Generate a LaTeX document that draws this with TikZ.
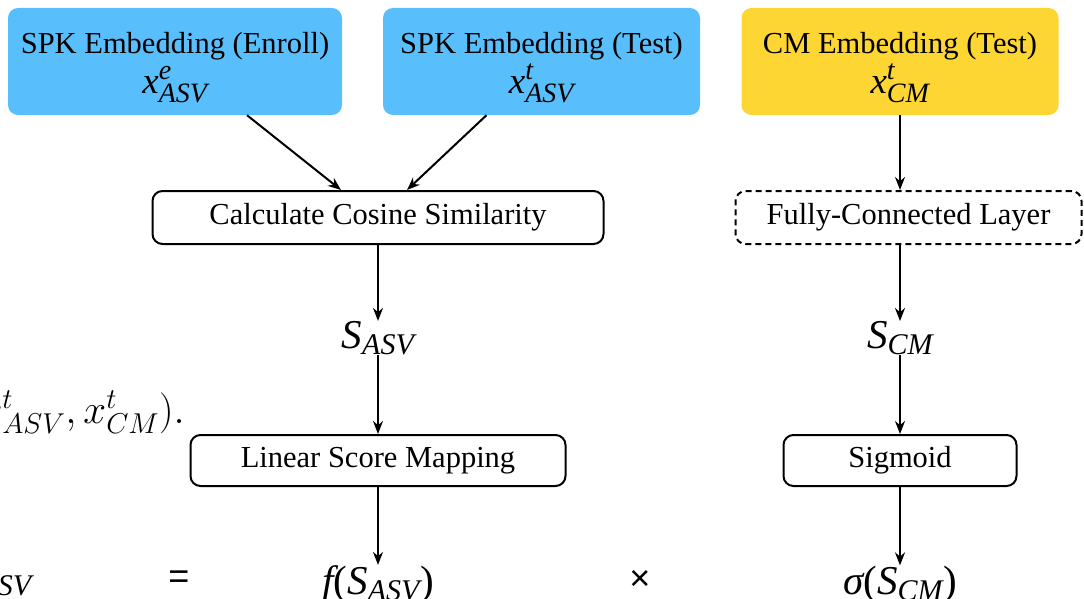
\RequirePackage{fix-cm}
\documentclass[tikz,border=0pt]{standalone}
\usepackage{amsmath}
\usepackage{fontspec}
\setmainfont{Liberation Serif}
\newfontfamily\opfont{Liberation Sans}
\usetikzlibrary{arrows.meta,calc}

\definecolor{spkblue}{RGB}{88,190,252}
\definecolor{cmyellow}{RGB}{253,214,51}

%% italic variable with scripts, sizes as in the figure
\newcommand{\embvar}[3]{{\fontsize{37}{37}\selectfont$\mbox{\itshape #1}^{\mbox{\fontsize{28}{28}\selectfont\itshape #2}}_{\mbox{\fontsize{28}{28}\selectfont\itshape #3}}$}}
\newcommand{\scorevar}[2]{\mbox{\itshape #1}_{\mbox{\fontsize{30}{30}\selectfont\itshape #2}}}
\newcommand{\embfont}{\fontsize{30.5}{40}\selectfont\lineskiplimit=-100pt\relax}

\tikzset{
  embbox/.style={rounded corners=10pt, minimum height=107pt, align=center,
    inner sep=0pt, font=\embfont},
  stepbox/.style={draw, line width=2pt, rounded corners=10pt, minimum height=53pt,
    inner sep=0pt, font=\fontsize{30.5}{36}\selectfont},
  score/.style={inner sep=0pt, font=\fontsize{41}{46}\selectfont},
  flow/.style={line width=2pt, -{Stealth[length=13pt,width=10pt]}},
}

\begin{document}
\begin{tikzpicture}[x=1pt,y=-1pt]
\useasboundingbox (0,0) rectangle (1084,599);
\clip (0,0) rectangle (1084,599);

%% embeddings
\node[embbox, fill=spkblue, minimum width=334pt] (enroll) at (175,61.5)
  {\rule{0pt}{33pt}SPK Embedding (Enroll)\\ \embvar{x}{e}{ASV}};
\node[embbox, fill=spkblue, minimum width=317pt] (test) at (541.5,61.5)
  {\rule{0pt}{33pt}SPK Embedding (Test)\\ \embvar{x}{t}{ASV}};
\node[embbox, fill=cmyellow, minimum width=317pt] (cmemb) at (900,61.5)
  {\rule{0pt}{33pt}CM Embedding (Test)\\ \embvar{x}{t}{CM}};

%% processing boxes
\node[stepbox, minimum width=451pt] (cosine) at (378,217.5) {Calculate Cosine Similarity};
\node[stepbox, dashed, dash pattern=on 6pt off 4pt, minimum width=346pt] (fc) at (908.5,217.5) {Fully-Connected Layer};
\node[score] (sasv) at (378,338) {$\scorevar{S}{ASV}$};
\node[score] (scm) at (900,338) {$\scorevar{S}{CM}$};
\node[stepbox, minimum width=375pt, minimum height=51pt] (linmap) at (378,460.5) {Linear Score Mapping};
\node[stepbox, minimum width=233pt, minimum height=51pt] (sigmoid) at (900,460.5) {Sigmoid};

%% bottom line of the formula
\node[score, anchor=base] (fsasv) at (378,594) {$\mbox{\itshape f}\mbox{(}\scorevar{S}{ASV}\mbox{)}$};
\node[score, anchor=base] (sigscm) at (900,594) {$\mbox{\itshape σ}\mbox{(}\scorevar{S}{CM}\mbox{)}$};
\node[score, font=\fontsize{36}{40}\opfont] (times) at (640,580) {×};
\node[score, font=\fontsize{36}{40}\opfont] (equals) at (179,580) {=};
\node[score, anchor=base east] (sfused) at (32,589) {$\scorevar{S}{ASV}$};

%% formula from the text behind
\node[inner sep=0pt, anchor=base east, font=\fontsize{41}{46}\selectfont] (eqtail) at (185,423)
  {$x^t_{ASV}, x^t_{CM}).$};

%%% edges
\draw[flow] ($(enroll.south)+(72,0)$) -- ($(cosine.north)+(-37,0)$);
\draw[flow] ($(test.south)+(-55,0)$) -- ($(cosine.north)+(29,0)$);
\draw[flow] (cmemb.south) -- (fc.north -| cmemb.south);
\draw[flow] (cosine.south) -- (sasv.north -| cosine.south);
\draw[flow] (fc.south -| scm.north) -- (scm.north);
\draw[flow] (sasv.south) -- (linmap.north -| sasv.south);
\draw[flow] (scm.south) -- (sigmoid.north -| scm.south);
\draw[flow] (linmap.south -| fsasv.north) -- (fsasv.north);
\draw[flow] (sigmoid.south -| sigscm.north) -- (sigscm.north);
\end{tikzpicture}
\end{document}
